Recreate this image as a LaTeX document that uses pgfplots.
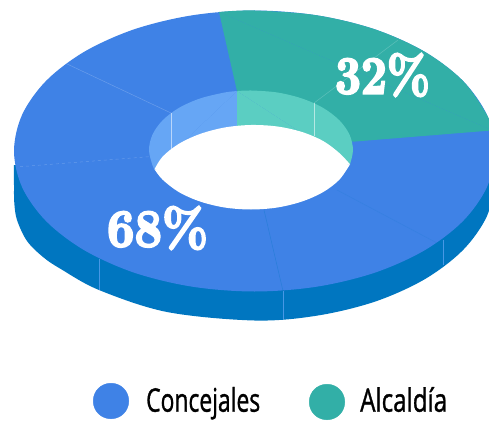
\documentclass[border=0pt]{standalone}
\usepackage{fontspec}
\usepackage{graphicx}
\usepackage{pgfplots}
\pgfplotsset{compat=1.18}
\newfontfamily\legendfont[FakeBold=1.2]{Open Sans}
\newfontfamily\fatfont[UprightFont={Latin Modern Roman/B},FakeBold=4]{Latin Modern Roman}
\definecolor{face}{HTML}{3F82E6}
\definecolor{facet}{HTML}{32AFA7}
\definecolor{wall}{HTML}{0076C0}
\definecolor{lblue}{HTML}{66A6F5}
\definecolor{lteal}{HTML}{5BCEC2}
\begin{document}
\begin{tikzpicture}
\begin{axis}[
  scale only axis, width=489pt, height=422pt,
  xmin=0, xmax=489, ymin=0, ymax=422, y dir=reverse,
  ticks=none, axis line style={draw=none},
  every axis plot/.append style={line join=round}
]
% outer wall
\addplot[fill=wall, draw=none, smooth, tension=0.55] coordinates {
 (14,165)(14,185)(14.3,203)(17,220)(27,241)(43,257)(60,268.5)(99,290)(167,312)(254.5,320.5)(316.7,315.7)(374.75,301.7)(424.6,279.3)(462.8,250.25)(486.8,216.4)(495,180)(495,165)};
% top face, Concejales
\addplot[fill=face, draw=none, smooth, tension=0.55] coordinates {
 (192.3,15.3)(254.5,10.5)(316.7,15.3)(374.75,29.3)(424.6,51.7)(462.8,80.75)(486.8,114.6)(495,151)(486.8,187.4)(462.8,221.25)(424.6,250.3)(374.75,272.7)(316.7,286.7)(254.5,291.5)(192.3,286.7)(134.25,272.7)(84.4,250.3)(46.2,221.25)(22.2,187.4)(14,151)(22.2,114.6)(46.2,80.75)(84.4,51.7)(134.25,29.3)(192.3,15.3)(254.5,10.5)(316.7,15.3)};
% top face, Alcaldia
\addplot[fill=facet, draw=none, smooth, tension=0.55] coordinates {
 (219,12)(254.5,10.5)(316.7,15.3)(374.75,29.3)(424.6,51.7)(462.8,80.75)(486.8,114.6)(492.4,130.4)};
\addplot[fill=facet, draw=none] coordinates {(219,12)(492.4,130.4)(353,141.7)(237,91.1)(219,12)};
% seams on the face
\addplot[white, opacity=0.22, line width=0.5pt] coordinates {(65,63)(171,113)};
\addplot[white, opacity=0.2, line width=0.5pt, dashed] coordinates {(20,166.7)(149,156.7)};
\addplot[white, opacity=0.22, line width=0.5pt] coordinates {(398,40)(314,103)};
\addplot[color=wall, opacity=0.35, line width=0.5pt] coordinates {(264,210)(283,291)};
\addplot[color=wall, opacity=0.15, line width=0.5pt] coordinates {(337,190)(437,243)};
% seams on the wall
\addplot[color=lblue, opacity=0.7, line width=0.5pt] coordinates {(99,259)(99,290)};
\addplot[color=lblue, opacity=0.7, line width=0.5pt] coordinates {(283,291)(283,319)};
\addplot[color=lblue, opacity=0.7, line width=0.5pt] coordinates {(443,240)(443,265)};
% inner wall
\addplot[fill=lblue, draw=none, smooth, tension=0.55] coordinates {
 (237,91.1)(224.6,92.5)(200,98.5)(178.9,107.9)(162.7,120.25)(152.5,134.6)(149,150)(152.5,165.4)(154.5,169.3)};
\addplot[fill=lblue, draw=none] coordinates {(237,91.1)(154.5,169.3)(237,165)(237,91.1)};
\addplot[fill=lteal, draw=none, smooth, tension=0.55] coordinates {
 (237,91.1)(251,90.5)(277.4,92.5)(302,98.5)(323.1,107.9)(339.3,120.25)(349.5,134.6)(353,150)(350,164.3)};
\addplot[fill=lteal, draw=none] coordinates {(237,91.1)(350,164.3)(237,165)(237,91.1)};
\addplot[white, opacity=0.55, line width=0.5pt] coordinates {(171,113)(171,149.3)};
\addplot[white, opacity=0.55, line width=0.5pt] coordinates {(314,103)(314,136)};
% hole
\addplot[fill=white, draw=none, smooth, tension=0.55] coordinates {
 (154.5,169.3)(162.7,156.5)(178.9,143.8)(200,134)(224.6,127.5)(251,125)(277.4,126.5)(302,132)(323.1,141)(339.3,153)(350,164.3)};
\addplot[fill=white, draw=none, smooth, tension=0.55] coordinates {
 (154.5,169.3)(162.7,179.75)(178.9,192.1)(200,201.5)(224.6,207.5)(251,209.5)(277.4,207.5)(302,201.5)(323.1,192.1)(339.3,179.75)(350,164.3)};
\addplot[fill=white, draw=none] coordinates {(154.5,169.3)(251,150)(350,164.3)(251,180)(154.5,169.3)};
% legend markers
\addplot[only marks, mark=*, mark size=17.8pt, color=face] coordinates {(111,401)};
\addplot[only marks, mark=*, mark size=17.8pt, color=facet] coordinates {(327,402)};
% labels
\node[anchor=center, inner sep=0pt, text=white] at (axis cs:157.5,228) {\resizebox{101pt}{40pt}{\fatfont 68\%}};
\node[anchor=center, inner sep=0pt, text=white] at (axis cs:382.5,75) {\resizebox{95pt}{40pt}{\fatfont 32\%}};
\node[anchor=base west, inner sep=0pt] at (axis cs:146,411.7) {\resizebox{114pt}{24.7pt}{\legendfont Concejales}};
\node[anchor=base west, inner sep=0pt] at (axis cs:360,411.7) {\resizebox{87pt}{24.7pt}{\legendfont Alcaldía}};
\end{axis}
\end{tikzpicture}
\end{document}
